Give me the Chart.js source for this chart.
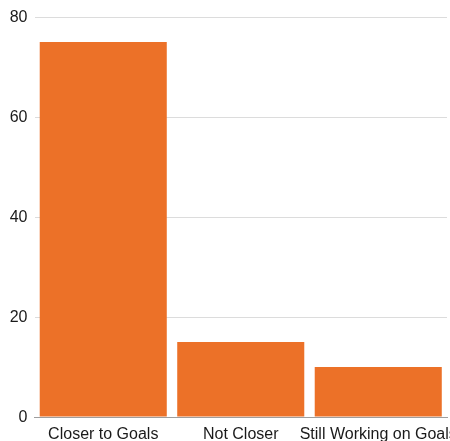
<!DOCTYPE html>
<html>
<head>
<meta charset="utf-8">
<script src="https://cdn.jsdelivr.net/npm/chart.js@4"></script>
<style>
  html, body { margin: 0; padding: 0; background: #fff; overflow: hidden; }
  #wrap { position: relative; width: 450px; height: 441px; }
</style>
</head>
<body>
<div id="wrap"><canvas id="chart"></canvas></div>
<script>
const categories = ["Closer to Goals", "Not Closer", "Still Working on Goals"];
const counts = [75, 15, 10];
const yTicks = [0, 20, 40, 60, 80];

const barColor = "#ec7128";
const tickFont = { family: "Liberation Sans, Arial, sans-serif", size: 16 };

new Chart(document.getElementById("chart"), {
  type: "bar",
  data: {
    labels: categories,
    datasets: [{
      data: counts,
      backgroundColor: barColor,
      borderWidth: 0,
      barPercentage: 0.924,
      categoryPercentage: 1,
    }],
  },
  options: {
    responsive: true,
    maintainAspectRatio: false,
    animation: false,
    layout: { autoPadding: false, padding: { top: 17, right: 3, bottom: 0, left: 0 } },
    plugins: { legend: { display: false }, tooltip: { enabled: false } },
    scales: {
      x: {
        grid: { display: false, drawTicks: false },
        border: { color: "#9e9e9e", width: 1 },
        ticks: {
          color: "#1a1a1a",
          font: tickFont,
          padding: 8,
          autoSkip: false,
          maxRotation: 0,
          minRotation: 0,
        },
        afterFit: (s) => {
          s.height = 24;
          s.paddingLeft = 0;
          s.paddingRight = 0;
        },
      },
      y: {
        min: 0,
        max: 80,
        afterBuildTicks: (s) => { s.ticks = yTicks.map((v) => ({ value: v })); },
        grid: { color: "#dcdcdc", drawTicks: false },
        border: { display: false },
        ticks: {
          color: "#1a1a1a",
          font: tickFont,
          padding: 7,
          labelOffset: 1,
        },
        afterFit: (s) => {
          s.width = 34.5;
          s.paddingTop = 0;
          s.paddingBottom = 0;
        },
      },
    },
  },
});
</script>
</body>
</html>
